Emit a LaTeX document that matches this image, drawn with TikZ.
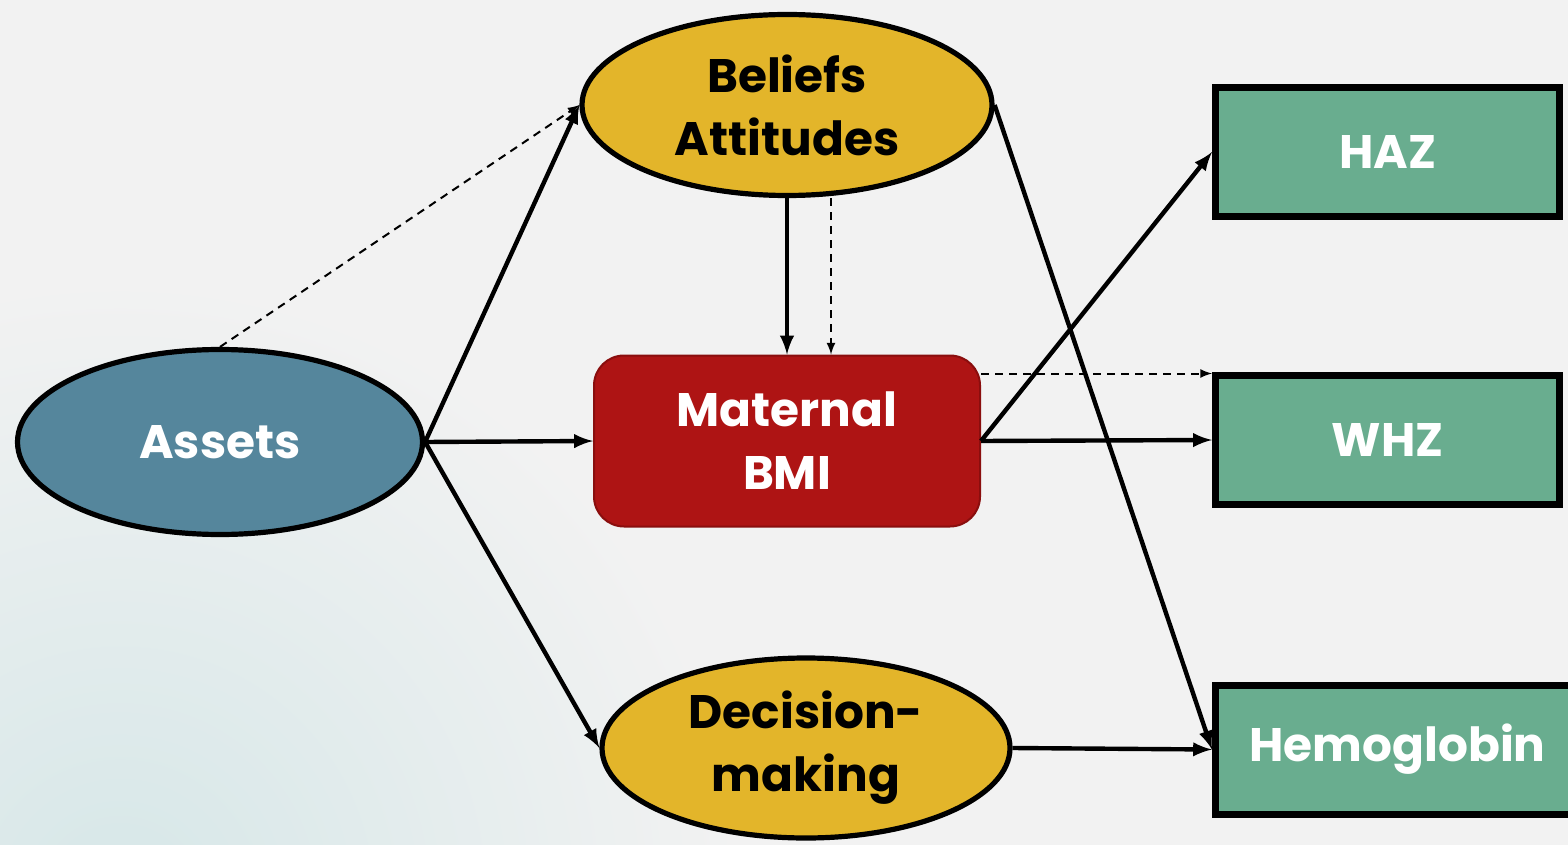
\documentclass[tikz,border=0pt]{standalone}
\usepackage{fontspec}
\setmainfont{Poppins}
\usetikzlibrary{positioning}
\usetikzlibrary{shapes.geometric}
\usetikzlibrary{arrows}
\definecolor{bggray}{HTML}{F2F2F2}
\definecolor{bgteal}{HTML}{D6E7E8}
\definecolor{assetblue}{HTML}{55869C}
\definecolor{mustard}{HTML}{E3B52A}
\definecolor{bmired}{HTML}{AE1414}
\definecolor{bmiedge}{HTML}{8A0E0E}
\definecolor{outgreen}{HTML}{69AD8F}
\tikzset{
  label/.style          = { font=\bfseries\fontsize{23.5}{31.5}\selectfont, align=center },
  oval/.style           = { ellipse, draw=black, line width=2.6pt, inner sep=0pt, label },
  outcome/.style        = { rectangle, draw=black, line width=3.5pt, fill=outgreen,
                            text=white, minimum width=172pt, minimum height=64.5pt, label },
  relation/.style       = { draw=black, line width=2.2pt, ->, >=latex },
  indirect/.style       = { draw=black, line width=1pt, dashed, dash pattern=on 4pt off 3pt, ->, >=latex },
}
\begin{document}
\begin{tikzpicture}[x=0.5pt,y=-0.5pt]
  % background
  \useasboundingbox (0,0) rectangle (1568,845);
  \fill [bggray] (0,0) rectangle (1568,845);
  \begin{scope}
    \clip (0,0) rectangle (1568,845);
    \shade [inner color=bgteal, outer color=bggray] (120,900) circle (310pt);
  \end{scope}

  \node (assets)   [oval,fill=assetblue,text=white,minimum width=202.5pt,minimum height=92.5pt] at (220,442) {Assets};
  \node (beliefs)  [oval,fill=mustard,minimum width=205pt,minimum height=90.5pt]  at (787,105) {Beliefs\\Attitudes};
  \node (decision) [oval,fill=mustard,minimum width=204pt,minimum height=90pt]    at (806,748) {Decision-\\making};
  \node (maternal) [label,draw=bmiedge,line width=1pt,fill=bmired,text=white,rounded corners=15pt,
                    minimum width=193pt,minimum height=85.5pt] at (787,441) {Maternal\\BMI};

  \node (haz)        [outcome] at (1387.5,152) {HAZ};
  \node (whz)        [outcome] at (1387.5,440) {WHZ};
  \node (hemoglobin) [outcome,minimum width=182pt] at (1397.5,749.5) {Hemoglobin};

  \draw [relation] (assets.east)   -- (beliefs.west);
  \draw [indirect] (assets.north)  -- (beliefs.west);
  \draw [relation] (assets.east)   -- (maternal.west);
  \draw [relation] (assets.east)   -- (decision.west);

  \draw [relation] (beliefs.south) -- (maternal.north);
  \draw [indirect] ([xshift=22pt]beliefs.south) -- ([xshift=22pt]maternal.north);
  \draw [relation] (beliefs.east)  -- (hemoglobin.west);

  \draw [relation] (maternal.east) -- (haz.west);
  \draw [relation] (maternal.east) -- (whz.west);
  \coordinate (bmidash) at ([yshift=-9.5pt]maternal.north east);
  \draw [indirect] (bmidash) -- (bmidash -| whz.west);

  \draw [relation] (decision.east) -- (hemoglobin.west);
\end{tikzpicture}
\end{document}
